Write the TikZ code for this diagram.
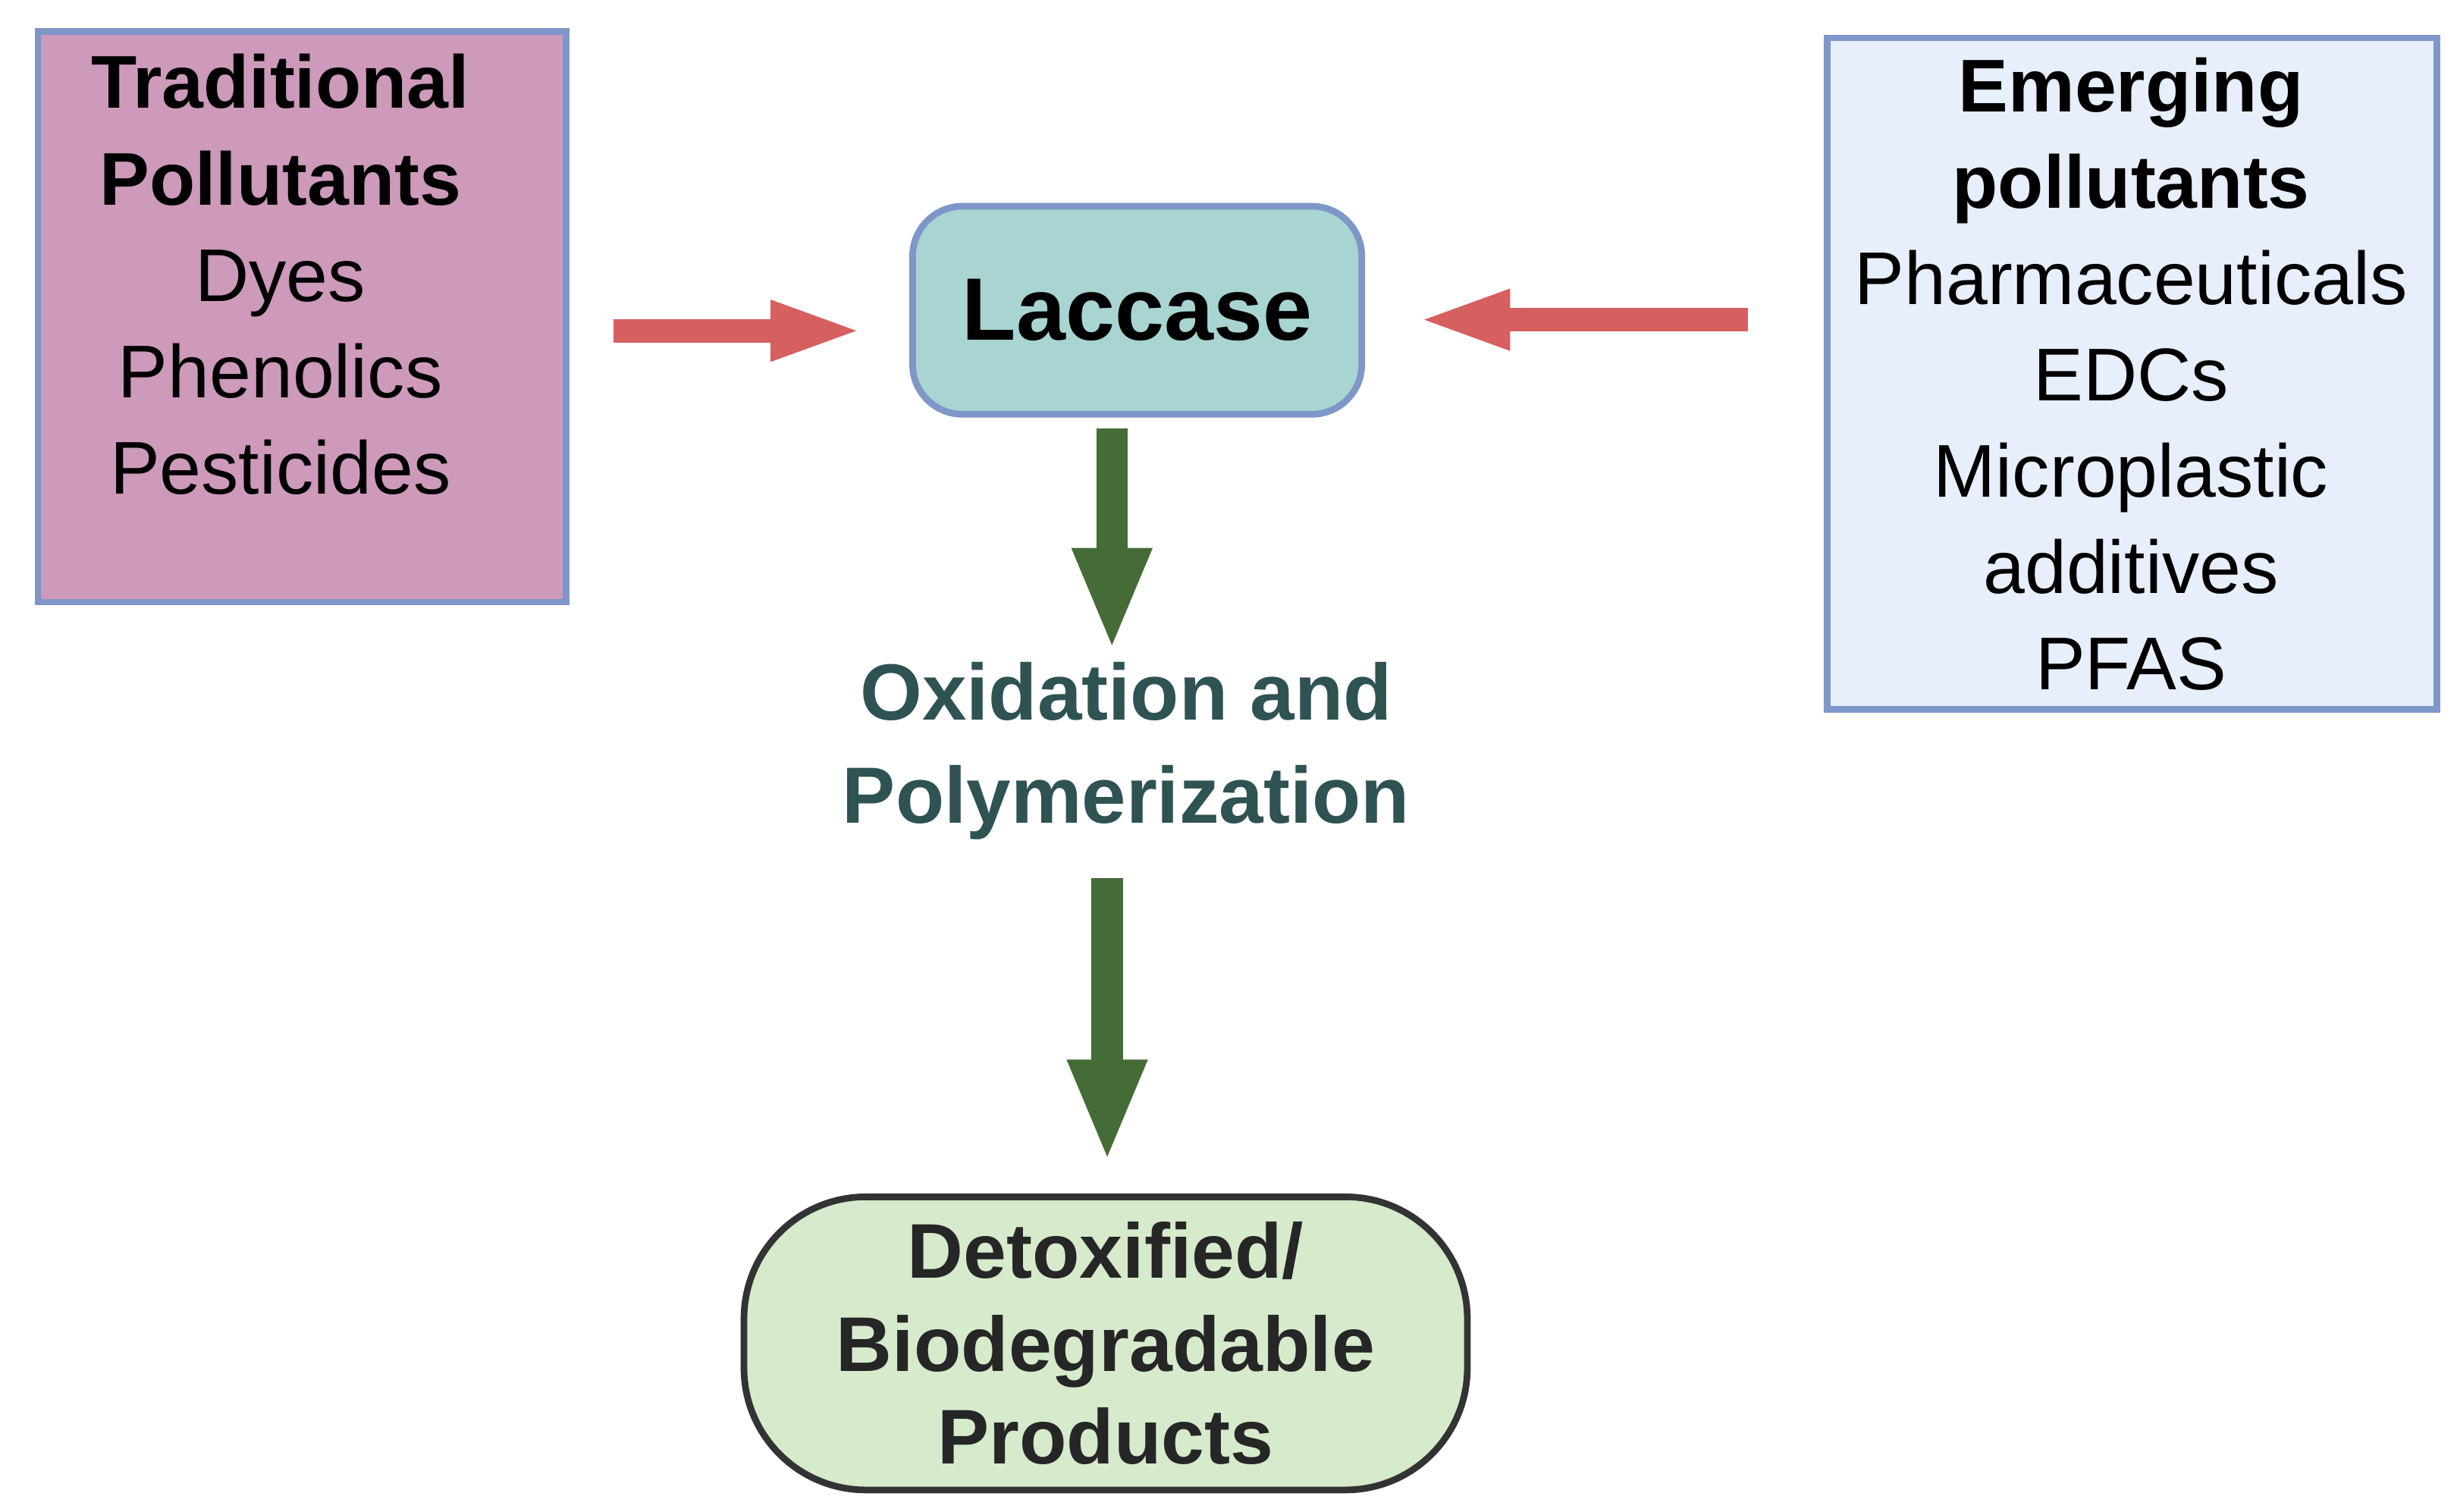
\documentclass[tikz,border=0pt]{standalone}
\usepackage{fontspec}
\setmainfont{Liberation Sans}
\usetikzlibrary{arrows.meta,positioning}
\definecolor{edgeblue}{HTML}{7E96C8}
\definecolor{tradfill}{HTML}{CD9ABB}
\definecolor{emfill}{HTML}{E6EFFB}
\definecolor{lacfill}{HTML}{A8D5D1}
\definecolor{prodfill}{HTML}{D5EBCC}
\definecolor{redarrow}{HTML}{D65F5F}
\definecolor{greenarrow}{HTML}{456B36}
\definecolor{oxtext}{HTML}{2F5253}
\begin{document}
\begin{tikzpicture}[x=0.01cm,y=-0.01cm]

\tikzset{listbox/.style={draw=edgeblue,line width=1.2pt,inner sep=0pt,anchor=north west},
listtext/.style={align=center,font=\fontsize{13.5}{17.4}\selectfont,anchor=north},
enzyme/.style={draw=edgeblue,line width=1.2pt,fill=lacfill,rounded corners=9pt,minimum width=2.85cm,minimum height=1.32cm,font=\fontsize{16}{19}\selectfont\bfseries},
product/.style={draw=black!80,line width=1.2pt,fill=prodfill,rounded corners=22pt,minimum width=4.59cm,minimum height=1.86cm,align=center,font=\fontsize{14}{16.8}\selectfont\bfseries,text=black!85},
feed/.style={-{Triangle[length=0.6cm,width=0.34cm]},line width=0.15cm,redarrow},
flow/.style={-{Triangle[length=0.65cm,width=0.46cm]},line width=0.2cm,greenarrow}}

\useasboundingbox (0,0) rectangle (1560,960);

% Pollutant boxes
\node (trad) [listbox,fill=tradfill,minimum width=3.35cm,minimum height=3.62cm] at (22,18) {};
\node (tradtext) [listtext] at (178,22) {\textbf{Traditional}\\\textbf{Pollutants}\\Dyes\\Phenolics\\Pesticides};
\node (emer) [listbox,fill=emfill,minimum width=3.87cm,minimum height=4.26cm] at (1158,22) {};
\node (emertext) [listtext] at (1353,24) {\textbf{Emerging}\\\textbf{pollutants}\\Pharmaceuticals\\EDCs\\Microplastic\\additives\\PFAS};

% Enzyme and products
\node (lac) [enzyme] at (722,197) {Laccase};
\node (ox) [align=center,text=oxtext,font=\fontsize{14.4}{18.6}\selectfont\bfseries] at (715,477) {Oxidation and\\Polymerization};
\node (prod) [product] at (702,853) {Detoxified/\\Biodegradable\\Products};

% Arrows
\draw [feed,shorten <=0.28cm,shorten >=0.28cm] (trad.east |- 0,210) -- (lac.west |- 0,210);
\draw [feed,shorten <=0.48cm,shorten >=0.32cm] (emer.west |- 0,203) -- (lac.east |- 0,203);
\draw [flow,shorten <=0.09cm,shorten >=0.02cm] (706,263) -- (706,415);
\draw [flow,shorten <=0.12cm,shorten >=0.2cm] (ox.south -| 703,0) -- (prod.north -| 703,0);

\end{tikzpicture}
\end{document}
